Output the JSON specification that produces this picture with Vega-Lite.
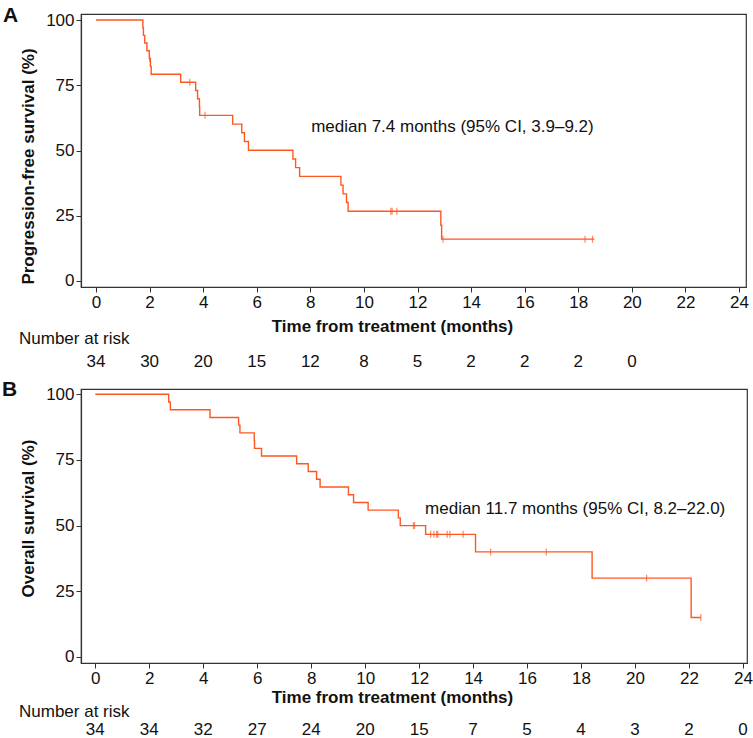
{
  "$schema": "https://vega.github.io/schema/vega-lite/v6.json",
  "padding": {"left": 1, "top": 4, "right": 0, "bottom": 0},
  "background": "white",
  "config": {
    "font": "Liberation Sans",
    "view": {"stroke": "#333", "strokeWidth": 1.2},
    "axis": {"labelFont": "Liberation Sans", "labelFontSize": 17, "labelColor": "#111", "titleFont": "Liberation Sans", "titleFontSize": 17, "titleFontWeight": "bold", "titleColor": "#111", "domainColor": "#333", "domainWidth": 1.2, "tickColor": "#333", "tickSize": 5, "grid": false, "labelPadding": 2, "labelFlush": false, "labelOverlap": false},
    "title": {"font": "Liberation Sans", "color": "#111"}
  },
  "datasets": {
    "pfs": [
      {"t": 0, "s": 100}, {"t": 1.75, "s": 97.06}, {"t": 1.77, "s": 94.12}, {"t": 1.82, "s": 91.18}, {"t": 1.9, "s": 88.24}, {"t": 1.99, "s": 85.29}, {"t": 2.03, "s": 82.25}, {"t": 2.06, "s": 79.21}, {"t": 3.16, "s": 76.16}, {"t": 3.72, "s": 72.98}, {"t": 3.79, "s": 69.81}, {"t": 3.86, "s": 66.64}, {"t": 3.87, "s": 63.46}, {"t": 5.1, "s": 60.12}, {"t": 5.44, "s": 56.78}, {"t": 5.54, "s": 53.44}, {"t": 5.69, "s": 50.1}, {"t": 7.35, "s": 46.76}, {"t": 7.45, "s": 43.42}, {"t": 7.6, "s": 40.08}, {"t": 9.14, "s": 36.74}, {"t": 9.22, "s": 33.4}, {"t": 9.35, "s": 30.06}, {"t": 9.41, "s": 26.72}, {"t": 12.87, "s": 21.38}, {"t": 12.9, "s": 16.03}, {"t": 18.6, "s": 16.03}
    ],
    "pfs_cens": [
      {"t": 2.0, "s": 85.29}, {"t": 3.5, "s": 76.16}, {"t": 4.07, "s": 63.46}, {"t": 11.0, "s": 26.72}, {"t": 11.05, "s": 26.72}, {"t": 11.23, "s": 26.72}, {"t": 12.95, "s": 16.03}, {"t": 18.25, "s": 16.03}, {"t": 18.53, "s": 16.03}
    ],
    "pfs_risk": [
      {"t": 0, "n": 34}, {"t": 2, "n": 30}, {"t": 4, "n": 20}, {"t": 6, "n": 15}, {"t": 8, "n": 12}, {"t": 10, "n": 8}, {"t": 12, "n": 5}, {"t": 14, "n": 2}, {"t": 16, "n": 2}, {"t": 18, "n": 2}, {"t": 20, "n": 0}
    ],
    "os": [
      {"t": 0, "s": 100}, {"t": 2.72, "s": 97.06}, {"t": 2.78, "s": 94.12}, {"t": 4.25, "s": 91.18}, {"t": 5.31, "s": 88.24}, {"t": 5.36, "s": 85.29}, {"t": 5.89, "s": 82.35}, {"t": 5.9, "s": 79.41}, {"t": 6.16, "s": 76.47}, {"t": 7.46, "s": 73.53}, {"t": 7.89, "s": 70.59}, {"t": 8.2, "s": 67.65}, {"t": 8.33, "s": 64.71}, {"t": 9.38, "s": 61.76}, {"t": 9.57, "s": 58.82}, {"t": 10.11, "s": 55.88}, {"t": 11.23, "s": 52.94}, {"t": 11.3, "s": 50.0}, {"t": 12.24, "s": 46.67}, {"t": 14.09, "s": 40.0}, {"t": 18.41, "s": 30.0}, {"t": 22.08, "s": 15.0}, {"t": 22.44, "s": 15.0}
    ],
    "os_cens": [
      {"t": 11.79, "s": 50}, {"t": 11.83, "s": 50}, {"t": 12.43, "s": 46.67}, {"t": 12.55, "s": 46.67}, {"t": 12.65, "s": 46.67}, {"t": 12.69, "s": 46.67}, {"t": 13.04, "s": 46.67}, {"t": 13.14, "s": 46.67}, {"t": 13.63, "s": 46.67}, {"t": 14.65, "s": 40}, {"t": 16.71, "s": 40}, {"t": 20.43, "s": 30}, {"t": 22.44, "s": 15}
    ],
    "os_risk": [
      {"t": 0, "n": 34}, {"t": 2, "n": 34}, {"t": 4, "n": 32}, {"t": 6, "n": 27}, {"t": 8, "n": 24}, {"t": 10, "n": 20}, {"t": 12, "n": 15}, {"t": 14, "n": 7}, {"t": 16, "n": 5}, {"t": 18, "n": 4}, {"t": 20, "n": 3}, {"t": 22, "n": 2}, {"t": 24, "n": 0}
    ]
  },
  "spacing": -5,
  "vconcat": [
    {
      "width": 665, "height": 273,
      "title": {"text": "A", "anchor": "start", "frame": "group", "dx": -78, "offset": -15, "fontSize": 21, "fontWeight": "bold", "baseline": "top"},
      "layer": [
        {
          "mark": {"type": "rule", "color": "#999", "strokeDash": [1.5, 1.5], "strokeWidth": 1},
          "encoding": {"y": {"datum": 50, "type": "quantitative", "scale": {"domain": [-2.3, 102.3], "nice": false}}}
        },
        {
          "data": {"name": "pfs"},
          "mark": {"type": "line", "interpolate": "step-after", "color": "#FF5722", "strokeWidth": 1.4},
          "encoding": {
            "x": {"field": "t", "type": "quantitative", "scale": {"domain": [-0.56, 24.26], "nice": false, "zero": false},
                  "axis": {"values": [0, 2, 4, 6, 8, 10, 12, 14, 16, 18, 20, 22, 24], "title": "Time from treatment (months)", "titleX": 311, "titlePadding": 8}},
            "y": {"field": "s", "type": "quantitative", "scale": {"domain": [-2.3, 102.3], "nice": false},
                  "axis": {"values": [0, 25, 50, 75, 100], "title": "Progression-free survival (%)", "titleY": 152, "titlePadding": 8}}
          }
        },
        {
          "data": {"name": "pfs_cens"},
          "mark": {"type": "tick", "orient": "vertical", "size": 7, "thickness": 1.2, "color": "#FF5722"},
          "encoding": {
            "x": {"field": "t", "type": "quantitative"},
            "y": {"field": "s", "type": "quantitative"}
          }
        },
        {
          "data": {"values": [{"t": 8.03, "s": 59.1, "label": "median 7.4 months (95% CI, 3.9–9.2)"}]},
          "mark": {"type": "text", "align": "left", "baseline": "middle", "fontSize": 17, "color": "#111"},
          "encoding": {
            "x": {"field": "t", "type": "quantitative"},
            "y": {"field": "s", "type": "quantitative"},
            "text": {"field": "label"}
          }
        }
      ]
    },
    {
      "width": 665, "height": 42,
      "view": {"stroke": null},
      "title": {"text": "Number at risk", "anchor": "start", "frame": "group", "dx": -62, "offset": -7, "fontSize": 17, "fontWeight": "normal", "baseline": "top"},
      "data": {"name": "pfs_risk"},
      "mark": {"type": "text", "fontSize": 17, "color": "#111", "baseline": "middle"},
      "encoding": {
        "x": {"field": "t", "type": "quantitative", "scale": {"domain": [-0.56, 24.26], "nice": false, "zero": false}, "axis": null},
        "text": {"field": "n"}
      }
    },
    {
      "width": 666, "height": 274,
      "title": {"text": "B", "anchor": "start", "frame": "group", "dx": -79, "offset": -15, "fontSize": 21, "fontWeight": "bold", "baseline": "top"},
      "layer": [
        {
          "mark": {"type": "rule", "color": "#999", "strokeDash": [1.5, 1.5], "strokeWidth": 1},
          "encoding": {"y": {"datum": 50, "type": "quantitative", "scale": {"domain": [-2.3, 102.0], "nice": false}}}
        },
        {
          "data": {"name": "os"},
          "mark": {"type": "line", "interpolate": "step-after", "color": "#FF5722", "strokeWidth": 1.4},
          "encoding": {
            "x": {"field": "t", "type": "quantitative", "scale": {"domain": [-0.53, 24.15], "nice": false, "zero": false},
                  "axis": {"values": [0, 2, 4, 6, 8, 10, 12, 14, 16, 18, 20, 22, 24], "title": "Time from treatment (months)", "titleX": 311, "titlePadding": 3.5}},
            "y": {"field": "s", "type": "quantitative", "scale": {"domain": [-2.3, 102.0], "nice": false},
                  "axis": {"values": [0, 25, 50, 75, 100], "title": "Overall survival (%)", "titleY": 129, "titlePadding": 8}}
          }
        },
        {
          "data": {"name": "os_cens"},
          "mark": {"type": "tick", "orient": "vertical", "size": 7, "thickness": 1.2, "color": "#FF5722"},
          "encoding": {
            "x": {"field": "t", "type": "quantitative"},
            "y": {"field": "s", "type": "quantitative"}
          }
        },
        {
          "data": {"values": [{"t": 12.22, "s": 56.3, "label": "median 11.7 months (95% CI, 8.2–22.0)"}]},
          "mark": {"type": "text", "align": "left", "baseline": "middle", "fontSize": 17, "color": "#111"},
          "encoding": {
            "x": {"field": "t", "type": "quantitative"},
            "y": {"field": "s", "type": "quantitative"},
            "text": {"field": "label"}
          }
        }
      ]
    },
    {
      "width": 666, "height": 22,
      "view": {"stroke": null},
      "title": {"text": "Number at risk", "anchor": "start", "frame": "group", "dx": -62, "offset": -1.5, "fontSize": 17, "fontWeight": "normal", "baseline": "top"},
      "data": {"name": "os_risk"},
      "mark": {"type": "text", "fontSize": 17, "color": "#111", "baseline": "middle"},
      "encoding": {
        "x": {"field": "t", "type": "quantitative", "scale": {"domain": [-0.53, 24.15], "nice": false, "zero": false}, "axis": null},
        "text": {"field": "n"}
      }
    }
  ]
}
